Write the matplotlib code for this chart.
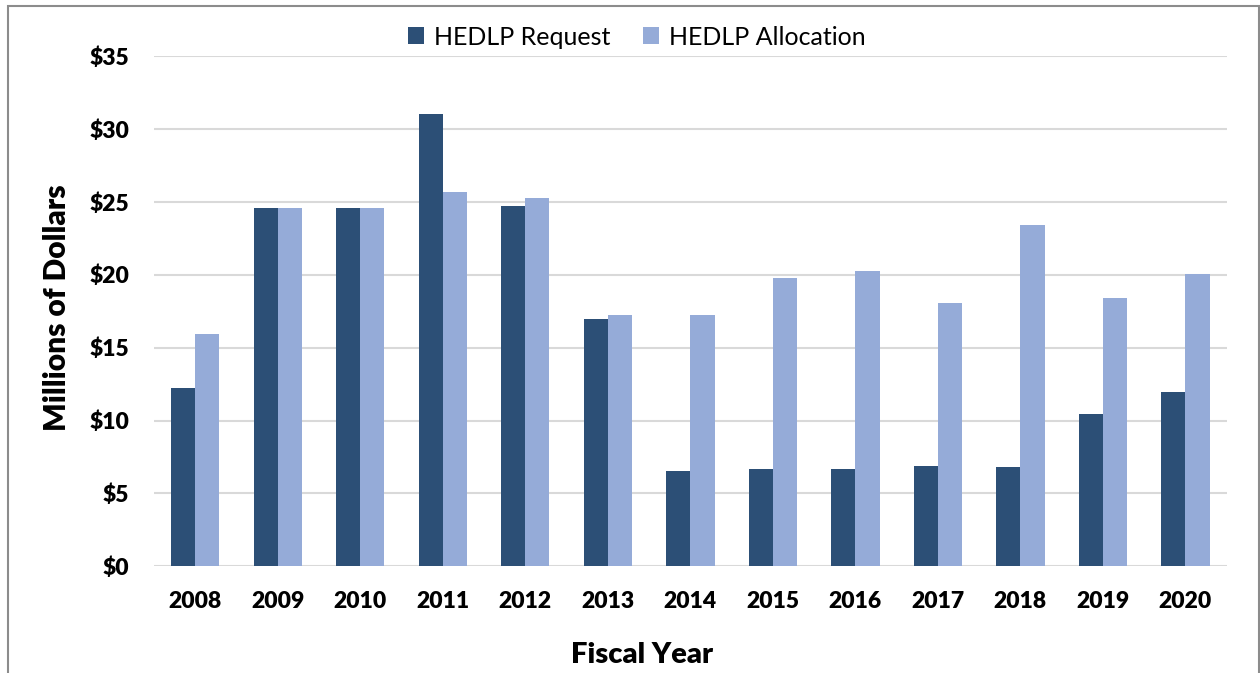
import matplotlib
matplotlib.use("Agg")
import matplotlib.pyplot as plt
import numpy as np
from matplotlib.patches import Rectangle, Patch

years = ["2008", "2009", "2010", "2011", "2012", "2013", "2014",
         "2015", "2016", "2017", "2018", "2019", "2020"]
request = [12.25, 24.6, 24.6, 31.05, 24.7, 16.95, 6.55, 6.7, 6.7, 6.9, 6.8, 10.45, 11.95]
allocation = [15.9, 24.6, 24.6, 25.7, 25.25, 17.25, 17.25, 19.8, 20.25, 18.05, 23.4, 18.4, 20.05]
yticks = [0, 5, 10, 15, 20, 25, 30, 35]
ytick_labels = ["$0", "$5", "$10", "$15", "$20", "$25", "$30", "$35"]
series_names = ["HEDLP Request", "HEDLP Allocation"]

dark = "#2C4F76"
light = "#95ABD8"

plt.rcParams["font.family"] = ["Lato", "DejaVu Sans"]

fig = plt.figure(figsize=(12.6, 6.73), dpi=100)
ax = fig.add_axes([0.1222, 0.1585, 0.9736 - 0.1222, 0.9168 - 0.1585])

x = np.arange(len(years))
w = 0.293
ax.bar(x - w / 2, request, width=w, color=dark, zorder=3)
ax.bar(x + w / 2, allocation, width=w, color=light, zorder=3)

ax.set_xlim(-0.5, len(years) - 0.5)
ax.set_ylim(0, 35)
ax.set_yticks(yticks)
ax.set_yticklabels(ytick_labels)
ax.set_xticks(x)
ax.set_xticklabels(years)
for lbl in ax.get_xticklabels() + ax.get_yticklabels():
    lbl.set_fontweight("heavy")
    lbl.set_fontsize(16.5)
ax.tick_params(axis="both", length=0)
ax.tick_params(axis="y", pad=18)
ax.tick_params(axis="x", pad=18)

ax.grid(axis="y", color="#D9D9D9", linewidth=1.5, zorder=0)
for s in ax.spines.values():
    s.set_visible(False)

ax.set_ylabel("Millions of Dollars", fontsize=21.5, fontweight="heavy")
ax.yaxis.set_label_coords(-0.0904, 0.506)
ax.yaxis.label.set_va("center")
ax.set_xlabel("Fiscal Year", fontsize=21, fontweight="heavy")
ax.xaxis.set_label_coords(0.4547, -0.173)
ax.xaxis.label.set_va("center")

handles = [Patch(facecolor=dark), Patch(facecolor=light)]
fig.legend(handles, series_names, loc="center", bbox_to_anchor=(0.5056, 0.945),
           ncol=2, frameon=False, fontsize=18, handlelength=0.65, handleheight=0.65,
           handletextpad=0.4, columnspacing=1.3)

fig.patches.append(Rectangle((8 / 1260, -0.01), (1259 - 8) / 1260, 1 - 6 / 673 + 0.01,
                             transform=fig.transFigure, fill=False,
                             edgecolor="#8C8C8C", linewidth=1.5))

fig.savefig("out.png", dpi=100, facecolor="white")
